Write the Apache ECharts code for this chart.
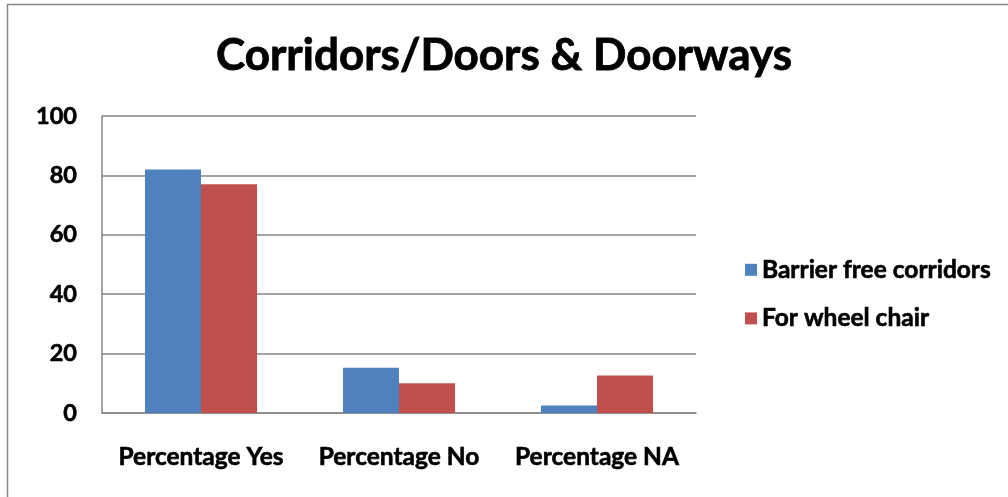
<!DOCTYPE html>
<html>
<head>
<meta charset="utf-8">
<script src="https://cdn.jsdelivr.net/npm/echarts@6/dist/echarts.min.js"></script>
<style>
  html, body { margin: 0; padding: 0; background: #fff; }
  #chart { width: 1008px; height: 497px; }
</style>
</head>
<body>
<div id="chart"></div>
<script>
// Survey results for corridor and doorway accessibility
const categories = ['Percentage Yes', 'Percentage No', 'Percentage NA'];
const barrierFree = [82, 15.2, 2.5];
const wheelChair = [77, 10, 12.6];
const yTicks = [0, 20, 40, 60, 80, 100];

const FONT = 'Lato, "Open Sans", sans-serif';
// shared heavy text style (thin same-colour outline thickens the bold face)
const heavy = (size) => ({
  fontFamily: FONT, fontWeight: 'bold', fontSize: size, color: '#000',
  textBorderColor: '#000', textBorderWidth: 0.6
});

const chart = echarts.init(document.getElementById('chart'));
chart.setOption({
  backgroundColor: '#ffffff',
  animation: false,
  title: {
    text: 'Corridors/Doors & Doorways',
    left: 'center',
    top: 29,
    textStyle: Object.assign(heavy(44), { textBorderWidth: 0.8 })
  },
  legend: {
    orient: 'vertical',
    left: 740,
    top: 252,
    itemWidth: 12,
    itemHeight: 12,
    itemGap: 23,
    icon: 'rect',
    textStyle: heavy(24.5),
    data: ['Barrier free corridors', 'For wheel chair']
  },
  grid: { left: 102, right: 312, top: 116, bottom: 84, containLabel: false },
  xAxis: {
    type: 'category',
    data: categories,
    axisLine: { show: true, lineStyle: { color: '#868686', width: 1.5 } },
    axisTick: { show: false },
    axisLabel: Object.assign({ margin: 32, interval: 0 }, heavy(24.5))
  },
  yAxis: {
    type: 'value',
    min: yTicks[0],
    max: yTicks[yTicks.length - 1],
    interval: 20,
    axisLine: { show: true, lineStyle: { color: '#868686', width: 1.5 } },
    axisTick: { show: false },
    axisLabel: Object.assign({ margin: 25 }, heavy(23.5)),
    splitLine: { show: true, lineStyle: { color: '#868686', width: 1.5 } }
  },
  series: [
    {
      name: 'Barrier free corridors',
      type: 'bar',
      data: barrierFree,
      itemStyle: { color: '#4F81BD' },
      barGap: '0%',
      barCategoryGap: '43.4%'
    },
    {
      name: 'For wheel chair',
      type: 'bar',
      data: wheelChair,
      itemStyle: { color: '#C0504D' }
    }
  ],
  graphic: [
    {
      type: 'rect',
      shape: { x: 7.5, y: 4.5, width: 1100, height: 600 },
      style: { fill: 'none', stroke: '#868686', lineWidth: 1.5 },
      silent: true
    }
  ]
});
</script>
</body>
</html>
